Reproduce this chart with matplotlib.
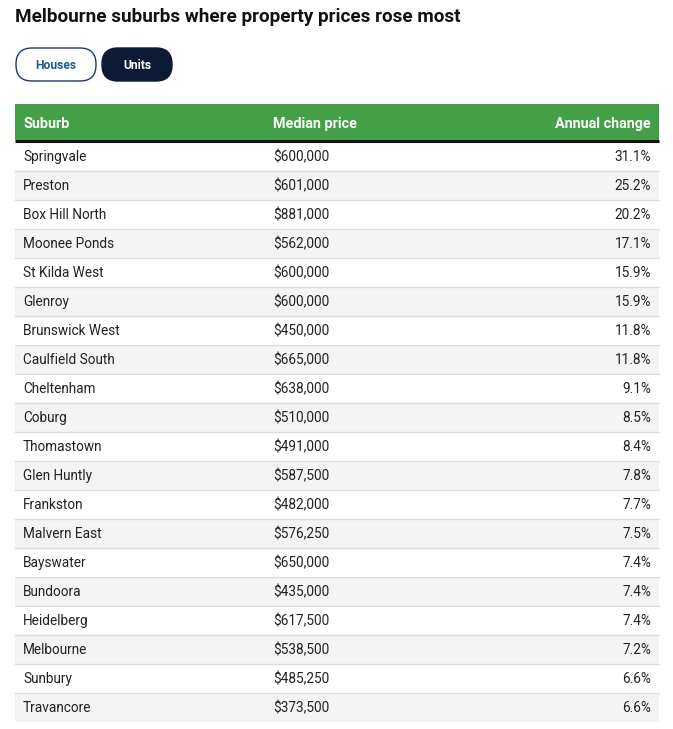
import matplotlib.pyplot as plt
from matplotlib.patches import FancyBboxPatch, Rectangle

suburbs = [
    "Springvale", "Preston", "Box Hill North", "Moonee Ponds", "St Kilda West",
    "Glenroy", "Brunswick West", "Caulfield South", "Cheltenham", "Coburg",
    "Thomastown", "Glen Huntly", "Frankston", "Malvern East", "Bayswater",
    "Bundoora", "Heidelberg", "Melbourne", "Sunbury", "Travancore",
]
median_prices = [
    600000, 601000, 881000, 562000, 600000, 600000, 450000, 665000, 638000, 510000,
    491000, 587500, 482000, 576250, 650000, 435000, 617500, 538500, 485250, 373500,
]
annual_change = [
    31.1, 25.2, 20.2, 17.1, 15.9, 15.9, 11.8, 11.8, 9.1, 8.5,
    8.4, 7.8, 7.7, 7.5, 7.4, 7.4, 7.4, 7.2, 6.6, 6.6,
]
columns = ["Suburb", "Median price", "Annual change"]
title = "Melbourne suburbs where property prices rose most"

W, H = 673, 729
plt.rcParams["font.family"] = ["Roboto", "DejaVu Sans"]

fig = plt.figure(figsize=(W / 100, H / 100), dpi=100)
ax = fig.add_axes([0, 0, 1, 1])
ax.set_xlim(0, W)
ax.set_ylim(H, 0)
ax.axis("off")

# all text placed on its baseline (pixel coords, y down)
ax.text(15, 22, title, fontsize=13.6, fontweight="bold", color="#111111", va="baseline")

# toggle buttons
ax.add_patch(FancyBboxPatch((16, 48), 80, 33, boxstyle="round,pad=0,rounding_size=16",
                            fc="white", ec="#1d3a66", lw=1.0))
ax.text(56, 68.5, "Houses", fontsize=8.7, fontweight="bold", color="#1f5a94",
        ha="center", va="baseline")
ax.add_patch(FancyBboxPatch((102, 48), 70, 33, boxstyle="round,pad=0,rounding_size=16",
                            fc="#0c1a35", ec="#0c1a35", lw=1.0))
ax.text(137, 68.5, "Units", fontsize=8.7, fontweight="bold", color="white",
        ha="center", va="baseline")

# header
left, right = 15, 659
ax.add_patch(Rectangle((left, 104), right - left, 36, fc="#43a047", ec="none"))
ax.plot([left, right], [141, 141], color="#111111", lw=2.2, solid_capstyle="butt")
col_x = [23, 273, 651]
aligns = ["left", "left", "right"]
for x, name, ha in zip(col_x, columns, aligns):
    ax.text(x, 128, name, fontsize=10.4, fontweight="bold", color="white", ha=ha, va="baseline")

# rows
row_h = 29
top = 142
for i, (sub, price, chg) in enumerate(zip(suburbs, median_prices, annual_change)):
    y0 = top + i * row_h
    fc = "#f4f4f4" if i % 2 else "white"
    ax.add_patch(Rectangle((left, y0), right - left, row_h, fc=fc, ec="none"))
    if i > 0:
        ax.plot([left, right], [y0, y0], color="#dddddd", lw=1.0)
    vals = [sub, f"${price:,}", f"{chg:.1f}%"]
    for x, v, ha in zip(col_x, vals, aligns):
        ax.text(x, y0 + 19, v, fontsize=9.8, color="#222222", ha=ha, va="baseline")

fig.savefig("out.png", dpi=100)
